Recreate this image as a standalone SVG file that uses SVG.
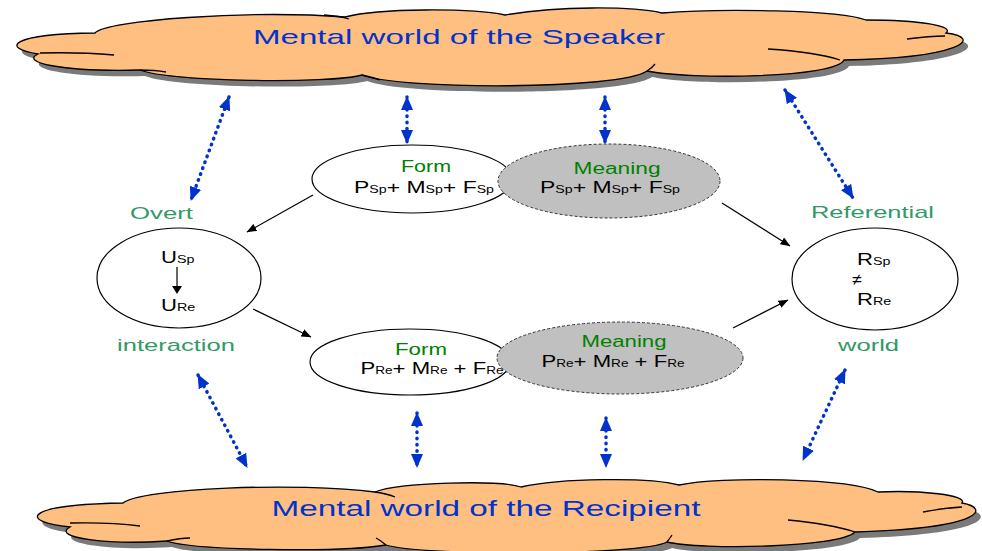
<svg xmlns="http://www.w3.org/2000/svg" width="982" height="551" viewBox="0 0 982 551">
<style>
text{font-family:"Liberation Sans",Arial,sans-serif}
.cloud{fill:#FFBF80;stroke:#000;stroke-width:1.3}
.shadow{fill:#7a7a7a}
.stub{fill:none;stroke:#000;stroke-width:1.3}
.ctext{font-size:21px;fill:#0033CC}
.blue{stroke:#0033CC;stroke-width:3.5;stroke-dasharray:0.5 5.8;stroke-linecap:round;fill:none;marker-start:url(#bh);marker-end:url(#bh)}
.blk{stroke:#000;stroke-width:1.2;fill:none;marker-end:url(#kh)}
.lbl{fill:#339966;font-size:17px}
.fm{fill:#008000;font-size:16px}
.f{fill:#000;font-size:17px}
.sub{font-size:10.5px}
.node{fill:#fff;stroke:#000;stroke-width:1.2}
.mean{fill:#C0C0C0;stroke:#333;stroke-width:1;stroke-dasharray:3 2}
</style>
<defs>
<marker id="bh" viewBox="0 0 14 12" refX="13" refY="6" markerWidth="14" markerHeight="12" markerUnits="userSpaceOnUse" orient="auto-start-reverse"><path d="M0,0 L14,6 L0,12 z" fill="#0033CC"/></marker>
<marker id="kh" viewBox="0 0 10 8" refX="9.5" refY="4" markerWidth="10" markerHeight="8" markerUnits="userSpaceOnUse" orient="auto"><path d="M0,0 L10,4 L0,8 z" fill="#000"/></marker>
<path id="topc" d="M95,33 C105,20 250,10 345,17 C380,8 470,8 505,15 C560,6 630,6 662,13 C720,8 840,10 866,20 C920,20 955,26 946,33 C985,38 960,58 844,60 C835,78 690,80 647,71 C620,90 400,90 362,75 C330,84 170,82 140,70 C60,72 20,62 38,54 C0,48 10,34 95,33 Z"/>
<path id="botc" d="M123,503 C140,488 300,482 375,492 C400,482 500,480 521,487 C560,478 650,477 679,485 C720,476 850,478 878,492 C920,490 968,495 962,503 C990,508 985,528 855,532 C840,548 700,550 667,542 C640,556 420,556 386,545 C340,553 190,550 167,541 C110,545 50,538 70,527 C20,522 20,505 123,503 Z"/>
</defs>

<g id="cloud-speaker">
<use href="#topc" class="shadow" transform="translate(5,6)"/>
<use href="#topc" class="cloud"/>
<path class="stub" d="M40,53 Q80,52 114,55"/>
<path class="stub" d="M140,70 Q155,70 166,72"/>
<path class="stub" d="M324,15 Q340,16 349,19"/>
<path class="stub" d="M907,39 Q930,36 945,36"/>
<path class="stub" d="M768,49 Q815,52 840,60"/>
<path class="stub" d="M362,75 Q375,78 380,80"/>
<path class="stub" d="M647,71 Q652,68 655,64"/>
<text class="ctext" x="459" y="44" text-anchor="middle" textLength="412" lengthAdjust="spacingAndGlyphs">Mental world of the Speaker</text>
</g>

<g id="cloud-recipient">
<use href="#botc" class="shadow" transform="translate(5,6)"/>
<use href="#botc" class="cloud"/>
<path class="stub" d="M70,523 Q110,522 140,526"/>
<path class="stub" d="M167,541 Q180,538 190,538"/>
<path class="stub" d="M375,492 Q388,494 395,497"/>
<path class="stub" d="M788,520 Q830,524 855,532"/>
<path class="stub" d="M923,512 Q945,508 962,507"/>
<path class="stub" d="M667,542 Q670,538 672,535"/>
<path class="stub" d="M386,545 Q380,540 376,538"/>
<text class="ctext" x="486" y="516" text-anchor="middle" textLength="429" lengthAdjust="spacingAndGlyphs" style="font-size:22px">Mental world of the Recipient</text>
</g>

<g id="form-sp">
<ellipse class="node" cx="412" cy="179" rx="100" ry="34"/>
<text class="fm" x="426" y="172" text-anchor="middle" textLength="50" lengthAdjust="spacingAndGlyphs">Form</text>
<text class="f" transform="translate(424,193) scale(1.35,1)" text-anchor="middle"><tspan>P</tspan><tspan class="sub">Sp</tspan><tspan>+ M</tspan><tspan class="sub">Sp</tspan><tspan>+ F</tspan><tspan class="sub">Sp</tspan></text>
</g>

<g id="meaning-sp">
<ellipse class="mean" cx="609" cy="181" rx="111" ry="37"/>
<text class="fm" x="617" y="174" text-anchor="middle" textLength="87" lengthAdjust="spacingAndGlyphs">Meaning</text>
<text class="f" transform="translate(610,193) scale(1.35,1)" text-anchor="middle"><tspan>P</tspan><tspan class="sub">Sp</tspan><tspan>+ M</tspan><tspan class="sub">Sp</tspan><tspan>+ F</tspan><tspan class="sub">Sp</tspan></text>
</g>

<g id="form-re">
<ellipse class="node" cx="410" cy="362" rx="100" ry="33"/>
<text class="fm" x="421" y="355" text-anchor="middle" textLength="52" lengthAdjust="spacingAndGlyphs">Form</text>
<text class="f" transform="translate(432,374) scale(1.3,1)" text-anchor="middle"><tspan>P</tspan><tspan class="sub">Re</tspan><tspan>+ M</tspan><tspan class="sub">Re</tspan><tspan> + F</tspan><tspan class="sub">Re</tspan></text>
</g>

<g id="meaning-re">
<ellipse class="mean" cx="620" cy="358" rx="123" ry="36"/>
<text class="fm" x="624" y="347" text-anchor="middle" textLength="85" lengthAdjust="spacingAndGlyphs">Meaning</text>
<text class="f" transform="translate(613,367) scale(1.3,1)" text-anchor="middle"><tspan>P</tspan><tspan class="sub">Re</tspan><tspan>+ M</tspan><tspan class="sub">Re</tspan><tspan> + F</tspan><tspan class="sub">Re</tspan></text>
</g>

<g id="utterance">
<ellipse class="node" cx="179" cy="278" rx="82" ry="50"/>
<text class="f" transform="translate(161,263) scale(1.3,1)"><tspan>U</tspan><tspan style="font-size:11px">Sp</tspan></text>
<line x1="177" y1="267" x2="177" y2="287" stroke="#000" stroke-width="1.2"/>
<path d="M172,286 L182,286 L177,294 Z" fill="#000"/>
<text class="f" transform="translate(161,311) scale(1.3,1)"><tspan>U</tspan><tspan style="font-size:11px">Re</tspan></text>
</g>

<g id="reference">
<ellipse class="node" cx="875" cy="279" rx="83" ry="51"/>
<text class="f" transform="translate(857,265) scale(1.3,1)"><tspan>R</tspan><tspan style="font-size:11px">Sp</tspan></text>
<text class="f" transform="translate(857,285) scale(1.1,1)" text-anchor="middle" style="font-size:16px">≠</text>
<text class="f" transform="translate(857,305) scale(1.3,1)"><tspan>R</tspan><tspan style="font-size:11px">Re</tspan></text>
</g>

<g id="labels">
<text class="lbl" x="161.5" y="219" text-anchor="middle" textLength="63" lengthAdjust="spacingAndGlyphs">Overt</text>
<text class="lbl" x="176" y="351" text-anchor="middle" textLength="118" lengthAdjust="spacingAndGlyphs">interaction</text>
<text class="lbl" x="872.5" y="218" text-anchor="middle" textLength="123" lengthAdjust="spacingAndGlyphs">Referential</text>
<text class="lbl" x="868.5" y="351" text-anchor="middle" textLength="61" lengthAdjust="spacingAndGlyphs">world</text>
</g>

<g id="connectors">
<line class="blk" x1="313" y1="195" x2="247" y2="232"/>
<line class="blk" x1="253" y1="309" x2="311" y2="337"/>
<line class="blk" x1="722" y1="203" x2="790" y2="246"/>
<line class="blk" x1="733" y1="328" x2="788" y2="300"/>
<line class="blue" x1="229" y1="97" x2="191" y2="200"/>
<line class="blue" x1="407" y1="97" x2="407" y2="143"/>
<line class="blue" x1="605" y1="97" x2="605" y2="143"/>
<line class="blue" x1="785" y1="90" x2="853" y2="198"/>
<line class="blue" x1="198" y1="375" x2="247" y2="467"/>
<line class="blue" x1="417" y1="413" x2="417" y2="467"/>
<line class="blue" x1="606" y1="418" x2="606" y2="467"/>
<line class="blue" x1="845" y1="370" x2="803" y2="460"/>
</g>
</svg>
